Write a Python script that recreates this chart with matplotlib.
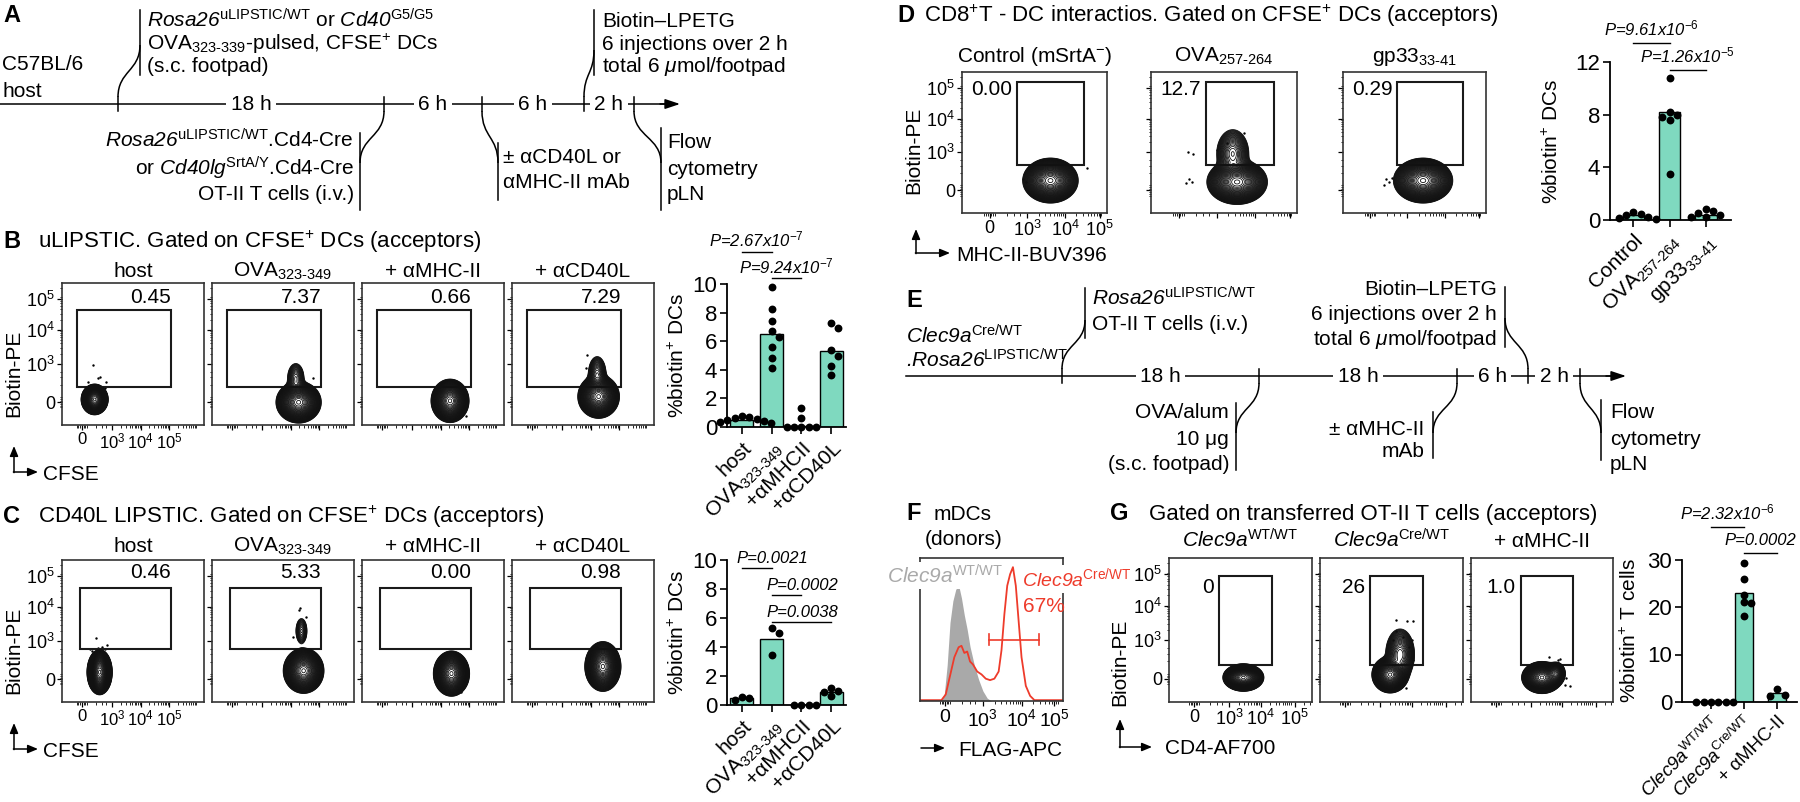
import numpy as np
import matplotlib
matplotlib.use('Agg')
import matplotlib.pyplot as plt
from matplotlib.patches import Rectangle, PathPatch
from matplotlib.path import Path

plt.rcParams['font.family'] = ['Liberation Sans', 'DejaVu Sans']
plt.rcParams['mathtext.fontset'] = 'custom'
plt.rcParams['mathtext.rm'] = 'Liberation Sans'
plt.rcParams['mathtext.it'] = 'Liberation Sans:italic'
plt.rcParams['mathtext.sf'] = 'Liberation Sans:italic'   # italic gene names incl. digits
plt.rcParams['mathtext.bf'] = 'Liberation Sans:bold'
plt.rcParams['mathtext.default'] = 'regular'

W, H = 1800, 802
TEAL = '#7fd9bf'
RED = '#ee3b2b'
GREY = '#a9a9a9'

# ---------------- data ----------------
# timelines (A, E): tick positions (px) and the spans between them
a_ticks = [118, 384, 482, 584, 634]
a_spans = ['18 h', '6 h', '6 h', '2 h']
e_ticks = [1062, 1259, 1457, 1528, 1580]
e_spans = ['18 h', '18 h', '6 h', '2 h']

# flow plots: populations (x, y, sx, sy, weight) in axis fractions, and stray events
b_titles = ['host', r'OVA$_{323\text{-}349}$', '+ αMHC-II', '+ αCD40L']
b_counts = ['0.45', '7.37', '0.66', '7.29']
b_pops = [
    [(0.23, 0.18, 0.030, 0.034, 1.0)],
    [(0.61, 0.16, 0.050, 0.046, 1.0), (0.59, 0.33, 0.028, 0.05, 0.05)],
    [(0.62, 0.17, 0.042, 0.048, 1.0)],
    [(0.61, 0.20, 0.046, 0.048, 1.0), (0.60, 0.36, 0.028, 0.055, 0.07)],
]
b_events = [
    [(0.22, 0.42), (0.27, 0.34), (0.31, 0.30), (0.18, 0.30), (0.30, 0.26), (0.25, 0.33)],
    [(0.71, 0.33)],
    [(0.73, 0.06)],
    [(0.53, 0.49), (0.52, 0.40)],
]

c_titles = ['host', r'OVA$_{323\text{-}349}$', '+ αMHC-II', '+ αCD40L']
c_counts = ['0.46', '5.33', '0.00', '0.98']
c_pops = [
    [(0.265, 0.21, 0.028, 0.05, 1.0)],
    [(0.645, 0.22, 0.045, 0.05, 1.0), (0.63, 0.50, 0.02, 0.045, 0.04)],
    [(0.63, 0.20, 0.040, 0.05, 1.0)],
    [(0.64, 0.25, 0.040, 0.055, 1.0)],
]
c_events = [
    [(0.24, 0.45), (0.28, 0.39), (0.32, 0.40), (0.20, 0.37), (0.27, 0.36), (0.30, 0.37),
     (0.25, 0.38), (0.22, 0.09), (0.29, 0.08), (0.21, 0.36)],
    [(0.61, 0.65), (0.66, 0.60), (0.57, 0.46), (0.62, 0.66)],
    [(0.70, 0.07)],
    [(0.58, 0.39), (0.60, 0.385)],
]

d_titles = [r'Control (mSrtA$^{-}$)', r'OVA$_{257\text{-}264}$', r'gp33$_{33\text{-}41}$']
d_counts = ['0.00', '12.7', '0.29']
d_pops = [
    [(0.61, 0.23, 0.060, 0.050, 1.0)],
    [(0.59, 0.22, 0.065, 0.050, 1.0), (0.56, 0.42, 0.045, 0.07, 0.12)],
    [(0.56, 0.23, 0.065, 0.050, 1.0)],
]
d_events = [
    [(0.42, 0.24), (0.44, 0.22), (0.86, 0.32)],
    [(0.29, 0.42), (0.25, 0.43), (0.28, 0.22), (0.26, 0.24), (0.24, 0.21), (0.64, 0.57),
     (0.52, 0.50), (0.45, 0.45)],
    [(0.30, 0.24), (0.32, 0.22), (0.34, 0.25), (0.29, 0.20), (0.62, 0.35)],
]

g_titles = [r'$\mathsf{Clec9a}^{\mathrm{WT/WT}}$', r'$\mathsf{Clec9a}^{\mathrm{Cre/WT}}$', '+ αMHC-II']
g_counts = ['0', '26', '1.0']
g_pops = [
    [(0.52, 0.17, 0.045, 0.030, 1.0)],
    [(0.49, 0.19, 0.040, 0.040, 1.0), (0.56, 0.33, 0.040, 0.07, 0.15)],
    [(0.50, 0.17, 0.045, 0.035, 1.0), (0.60, 0.20, 0.025, 0.03, 0.15)],
]
g_events = [
    [],
    [(0.53, 0.57), (0.61, 0.56), (0.65, 0.56), (0.53, 0.49), (0.58, 0.45), (0.64, 0.43),
     (0.51, 0.43), (0.62, 0.38), (0.60, 0.10), (0.65, 0.29)],
    [(0.55, 0.31), (0.61, 0.29), (0.63, 0.30), (0.67, 0.17), (0.66, 0.12), (0.70, 0.11)],
]

# bar charts (bar = median, dots = mice)
b_groups = ['host', r'OVA$_{323\text{-}349}$', '+αMHCII', '+αCD40L']
b_bars = [0.5, 6.5, 0.05, 5.3]
b_dots = [[0.8, 0.7, 0.62, 0.55, 0.48, 0.42, 0.35, 0.3],
          [9.8, 8.25, 7.4, 6.7, 6.3, 5.6, 4.85, 4.15],
          [1.3, 0.65, 0, 0, 0, 0, 0],
          [7.3, 6.9, 5.35, 4.95, 4.25, 3.65]]
b_pvals = [(0, 1, 12.25, 'P=2.67x10$^{\\mathit{-7}}$'), (1, 2, 10.4, 'P=9.24x10$^{\\mathit{-7}}$')]

c_groups = ['host', r'OVA$_{323\text{-}349}$', '+αMHCII', '+αCD40L']
c_bars = [0.45, 4.55, 0.0, 0.92]
c_dots = [[0.35, 0.55, 0.45], [5.3, 5.0, 3.45], [0, 0, 0, 0], [0.6, 0.87, 1.0, 1.2]]
c_pvals = [(0, 1, 9.45, 'P=0.0021'), (1, 2, 7.6, 'P=0.0002'), (1, 3, 5.7, 'P=0.0038')]

d_groups = ['Control', r'OVA$_{257\text{-}264}$', r'gp33$_{33\text{-}41}$']
d_bars = [0.35, 8.2, 0.38]
d_dots = [[0.6, 0.45, 0.35, 0.25, 0.15, 0.1],
          [10.8, 8.2, 8.0, 7.8, 7.6, 3.5],
          [0.8, 0.7, 0.55, 0.35, 0.2, 0.25]]
d_pvals = [(0, 1, 13.45, 'P=9.61x10$^{\\mathit{-6}}$'), (1, 2, 11.4, 'P=1.26x10$^{\\mathit{-5}}$')]

g_groups = [r'$\mathsf{Clec9a}^{\mathrm{WT/WT}}$', r'$\mathsf{Clec9a}^{\mathrm{Cre/WT}}$', '+ αMHC-II']
g_bars = [0.0, 23.0, 1.8]
g_dots = [[0, 0, 0, 0, 0, 0], [29.2, 25.9, 22.6, 21.0, 20.8, 18.1], [2.7, 1.4, 1.3]]
g_pvals = [(0, 1, 36.8, 'P=2.32x10$^{\\mathit{-6}}$'), (1, 2, 31.4, 'P=0.0002')]

# F histogram (FLAG-APC, axis fractions)
wt_x = [0.15, 0.17, 0.19, 0.21, 0.23, 0.25, 0.27, 0.29, 0.31, 0.33, 0.35, 0.38, 0.41, 0.44, 0.47, 0.50]
wt_y = [0.0, 0.05, 0.25, 0.55, 0.70, 0.78, 0.81, 0.72, 0.60, 0.50, 0.38, 0.25, 0.15, 0.07, 0.02, 0.0]
cre_x = [0.0, 0.15, 0.18, 0.21, 0.24, 0.27, 0.29, 0.31, 0.33, 0.35, 0.37, 0.40, 0.43, 0.46, 0.49,
         0.52, 0.55, 0.57, 0.59, 0.61, 0.63, 0.65, 0.67, 0.69, 0.71, 0.74, 0.77, 0.80, 1.0]
cre_y = [0.0, 0.0, 0.04, 0.17, 0.30, 0.37, 0.38, 0.33, 0.34, 0.27, 0.25, 0.20, 0.18, 0.15, 0.14,
         0.15, 0.20, 0.35, 0.60, 0.80, 0.88, 0.93, 0.80, 0.55, 0.30, 0.10, 0.03, 0.0, 0.0]

FLOW_LABELS = ['0', '$10^{3}$', '$10^{4}$', '$10^{5}$']
FLOW_YT = [0.16, 0.43, 0.67, 0.89]

# ---------------- figure ----------------
fig = plt.figure(figsize=(18, 8.02), dpi=100)


def box(x0, y0, x1, y1):
    return fig.add_axes([x0 / W, 1 - y1 / H, (x1 - x0) / W, (y1 - y0) / H])


ov = box(0, 0, W, H)
ov.set_xlim(0, W)
ov.set_ylim(H, 0)
ov.axis('off')


def txt(x, y, s, size=15, **kw):
    ov.text(x, y, s, fontsize=size, va='baseline', **kw)


def connector(x0, y0, x1, y1):
    ym = (y0 + y1) / 2
    p = Path([(x0, y0), (x0, ym), (x1, ym), (x1, y1)],
             [Path.MOVETO, Path.CURVE4, Path.CURVE4, Path.CURVE4])
    ov.add_patch(PathPatch(p, fc='none', ec='k', lw=1.1))


def bracket(tick_x, tick_y, line_x, ly0, ly1, join_y):
    ov.plot([line_x, line_x], [ly0, ly1], color='k', lw=1.1)
    connector(tick_x, tick_y, line_x, join_y)


def timeline(x0, tip, y, ticks, spans):
    ov.plot([x0, tip - 8], [y, y], color='k', lw=1.1)
    ov.annotate('', xy=(tip, y), xytext=(tip - 20, y),
                arrowprops=dict(arrowstyle='-|>,head_length=0.9,head_width=0.3', color='k',
                                lw=1.1, shrinkA=0, shrinkB=0))
    for t in ticks:
        ov.plot([t, t], [y - 7, y + 7], color='k', lw=1.1)
    for a, b, s in zip(ticks[:-1], ticks[1:], spans):
        ov.text((a + b) / 2, y, s, fontsize=15, ha='center', va='center',
                bbox=dict(boxstyle='square,pad=0.2', fc='white', ec='none'))


def corner_arrow(x, y, up, right):
    st = dict(arrowstyle='-|>,head_length=0.6,head_width=0.25', color='k', lw=1.1,
              shrinkA=0, shrinkB=0)
    ov.annotate('', xy=(x, y - up), xytext=(x, y + 0.6), arrowprops=st)
    ov.annotate('', xy=(x + right, y), xytext=(x - 0.6, y), arrowprops=st)


def minor_positions(t):
    f0, f3, f4, f5 = t
    dec = f4 - f3
    out = []
    for base in (f3, f4, f5):
        for k in range(2, 10):
            p = base + dec * np.log10(k)
            if p < 1:
                out.append(p)
    for k in (1, 2, 3):
        out += [f0 - 0.012 * k, f0 + 0.012 * k]
    out += list(f0 + (f3 - f0) * np.array([0.45, 0.65, 0.8]))
    return [p for p in out if 0 < p < 1]


def flow_ticks(ax, xt, show_x, show_y, xsize=13):
    ax.set_xticks(xt)
    ax.set_yticks(FLOW_YT)
    ax.set_xticks(minor_positions(xt), minor=True)
    ax.set_yticks(minor_positions(FLOW_YT), minor=True)
    ax.set_xticklabels(FLOW_LABELS if show_x else [])
    ax.set_yticklabels(FLOW_LABELS if show_y else [])
    ax.tick_params(which='major', length=3.5, width=0.9, labelsize=13, pad=1.5)
    ax.tick_params(axis='x', which='major', labelsize=xsize)
    ax.tick_params(which='minor', length=1.8, width=0.6)


gx = np.linspace(0, 1, 400)
GX, GY = np.meshgrid(gx, gx)
LEVELS = np.geomspace(0.006, 0.96, 42)


def flow_axes(xb, yb, pops, events, gate, count, count_mode, count_y, xt, title, title_gap,
              show_x=False, show_y=False, xsize=13):
    x0, x1 = xb
    y0, y1 = yb
    ax = box(x0, y0, x1, y1)
    ax.set_xlim(0, 1)
    ax.set_ylim(0, 1)
    z = np.zeros_like(GX)
    for cx, cy, sx, sy, w in pops:
        z += w * np.exp(-0.5 * (((GX - cx) / sx) ** 2 + ((GY - cy) / sy) ** 2))
    ax.contour(GX, GY, z, levels=z.max() * LEVELS, colors='#111111', linewidths=0.6)
    if events:
        e = np.array(events)
        ax.scatter(e[:, 0], e[:, 1], s=3, c='k', lw=0)
    g0, g1, h0, h1 = gate
    ax.add_patch(Rectangle((g0, h0), g1 - g0, h1 - h0, fill=False, ec='#1a1a1a', lw=1.5))
    if count_mode == 'right':
        ax.text(g1, count_y, count, ha='right', va='baseline', fontsize=15)
    else:
        ax.text(g0 - 0.035, count_y, count, ha='right', va='baseline', fontsize=15)
    ax.text(0.5, 1 + title_gap / (y1 - y0), title, transform=ax.transAxes, ha='center',
            va='baseline', fontsize=15)
    for sp in ax.spines.values():
        sp.set_linewidth(1.2)
        sp.set_color('#333333')
    flow_ticks(ax, xt, show_x, show_y, xsize)
    return ax


def swarm(vals, ypu, xpu, d=8.0):
    placed, offs = [], []
    for v in vals:
        y = v * ypu
        cand = 0.0
        for k in range(0, 30):
            cand = 0.0 if k == 0 else ((k + 1) // 2) * d * 0.92 * (1 if k % 2 else -1)
            if all((cand - px) ** 2 + (y - py) ** 2 >= (d * 0.92) ** 2 for px, py in placed):
                break
        placed.append((cand, y))
        offs.append(cand / xpu)
    return np.array(offs)


def bar_axes(xb, yb, names, heights, dots, xlim, ylim, yticks, ylabel, lab_x, bw, pvals,
             p_mode, p_gap, xlab_size=15):
    x0, x1 = xb
    y0, y1 = yb
    ax = box(x0, y0, x1, y1)
    pos = np.arange(len(names))
    ax.bar(pos, heights, width=bw, color=TEAL, edgecolor='k', linewidth=1.0, zorder=2)
    ax.set_xlim(*xlim)
    ax.set_ylim(*ylim)
    ypu = (y1 - y0) / (ylim[1] - ylim[0])
    xpu = (x1 - x0) / (xlim[1] - xlim[0])
    for i, vals in enumerate(dots):
        v = sorted(vals, reverse=True)
        offs = swarm(v, ypu, xpu)
        ax.scatter(pos[i] + offs, v, s=32, c='k', lw=0, zorder=3, clip_on=False)
    for s in ('top', 'right'):
        ax.spines[s].set_visible(False)
    for s in ('left', 'bottom'):
        ax.spines[s].set_linewidth(1.3)
    ax.set_yticks(yticks)
    ax.set_xticks(pos)
    ax.set_xticklabels(names, rotation=45, ha='right', rotation_mode='anchor',
                       fontsize=xlab_size)
    ax.tick_params(axis='y', labelsize=16, length=5, width=1.2, pad=2)
    ax.tick_params(axis='x', length=5, width=1.2, pad=3)
    ax.set_ylabel(ylabel, fontsize=15)
    ax.yaxis.set_label_coords(lab_x, 0.5)
    for i, j, y, s in pvals:
        ax.plot([i, j], [y, y], color='k', lw=1.0, clip_on=False)
        if p_mode == 'center':
            ax.text((i + j) / 2, y + p_gap, s, ha='center', va='baseline', fontsize=12,
                    style='italic', clip_on=False)
        else:
            ax.text(i - 0.17, y + p_gap, s, ha='left', va='baseline', fontsize=12,
                    style='italic', clip_on=False)
    return ax


# ---------------- A ----------------
txt(3, 22, 'A', size=17, weight='bold')
txt(2, 70, 'C57BL/6')
txt(2, 97, 'host')
timeline(0, 680, 104, a_ticks, a_spans)
bracket(a_ticks[0], 97, 140, 10, 75, 45)
txt(147, 27, r'$\mathsf{Rosa26}^{\mathrm{uLIPSTIC/WT}}$ or $\mathsf{Cd40}^{\mathrm{G5/G5}}$')
txt(147, 50, r'OVA$_{323\text{-}339}$-pulsed, CFSE$^{+}$ DCs')
txt(147, 72, '(s.c. footpad)')
bracket(a_ticks[3], 97, 594, 10, 75, 50)
txt(602, 27, 'Biotin–LPETG')
txt(602, 50, '6 injections over 2 h')
txt(602, 72, r'total 6 $\mathit{\mu}$mol/footpad')
bracket(a_ticks[1], 111, 360, 133, 210, 163)
txt(354, 148, r'$\mathsf{Rosa26}^{\mathrm{uLIPSTIC/WT}}$.Cd4-Cre', ha='right')
txt(354, 175, r'or $\mathsf{Cd40lg}^{\mathrm{SrtA/Y}}$.Cd4-Cre', ha='right')
txt(354, 200, 'OT-II T cells (i.v.)', ha='right')
bracket(a_ticks[2], 111, 498, 143, 200, 163)
txt(503, 163, '± αCD40L or')
txt(503, 188, 'αMHC-II mAb')
bracket(a_ticks[4], 111, 661, 128, 210, 163)
txt(667, 148, 'Flow')
txt(667, 175, 'cytometry')
txt(667, 200, 'pLN')

# ---------------- B ----------------
txt(3, 248, 'B', size=17, weight='bold')
txt(38, 248, r'uLIPSTIC. Gated on CFSE$^{+}$ DCs (acceptors)', size=16)
bc_x = [(62, 204), (212, 354), (362, 504), (512, 654)]
bc_xt = [0.14, 0.355, 0.555, 0.755]
for k in range(4):
    flow_axes(bc_x[k], (283, 425), b_pops[k], b_events[k], (0.105, 0.77, 0.27, 0.81),
              b_counts[k], 'right', 0.86, bc_xt, b_titles[k], 6, show_x=(k == 0),
              show_y=(k == 0), xsize=12)
ov.text(14, 373, 'Biotin-PE', fontsize=15, rotation=90, ha='center', va='center')
corner_arrow(14, 472, 26, 24)
txt(43, 480, 'CFSE')
bar_axes((727, 846), (284, 427), b_groups, b_bars, b_dots, (-0.5, 3.5), (0, 10),
         [0, 2, 4, 6, 8, 10], r'%biotin$^{+}$ DCs', -0.33, 0.77, b_pvals, 'center', 0.35)

# ---------------- C ----------------
txt(3, 523, 'C', size=17, weight='bold')
txt(38, 523, r'CD40L LIPSTIC. Gated on CFSE$^{+}$ DCs (acceptors)', size=16)
for k in range(4):
    flow_axes(bc_x[k], (560, 702), c_pops[k], c_events[k], (0.125, 0.765, 0.37, 0.80),
              c_counts[k], 'right', 0.87, bc_xt, c_titles[k], 8, show_x=(k == 0),
              show_y=(k == 0), xsize=12)
ov.text(14, 650, 'Biotin-PE', fontsize=15, rotation=90, ha='center', va='center')
corner_arrow(14, 749, 26, 24)
txt(43, 757, 'CFSE')
bar_axes((727, 846), (560, 705), c_groups, c_bars, c_dots, (-0.5, 3.5), (0, 10),
         [0, 2, 4, 6, 8, 10], r'%biotin$^{+}$ DCs', -0.33, 0.77, c_pvals, 'left', 0.35)

# ---------------- D ----------------
txt(897, 22, 'D', size=17, weight='bold')
txt(924, 22, r'CD8$^{+}$T - DC interactios. Gated on CFSE$^{+}$ DCs (acceptors)', size=16)
d_x = [(962, 1107), (1151, 1297), (1343, 1486)]
for k in range(3):
    flow_axes(d_x[k], (72, 213), d_pops[k], d_events[k], (0.38, 0.84, 0.34, 0.93),
              d_counts[k], 'left', 0.84, [0.19, 0.45, 0.71, 0.95], d_titles[k], 10,
              show_x=(k == 0), show_y=(k == 0))
ov.text(914, 150, 'Biotin-PE', fontsize=15, rotation=90, ha='center', va='center')
corner_arrow(916, 253, 24, 34)
txt(956, 261, 'MHC-II-BUV396')
bar_axes((1610, 1731), (62, 220), d_groups, d_bars, d_dots, (-0.65, 2.7), (0, 12),
         [0, 4, 8, 12], r'%biotin$^{+}$ DCs', -0.40, 0.6, d_pvals, 'center', 0.6)

# ---------------- E ----------------
txt(906, 307, 'E', size=17, weight='bold')
txt(906, 343, r'$\mathsf{Clec9a}^{\mathrm{Cre/WT}}$')
txt(906, 367, r'.$\mathsf{Rosa26}^{\mathrm{LIPSTIC/WT}}$', style='italic')
timeline(906, 1626, 376, e_ticks, e_spans)
bracket(e_ticks[0], 369, 1085, 288, 338, 320)
txt(1092, 305, r'$\mathsf{Rosa26}^{\mathrm{uLIPSTIC/WT}}$')
txt(1092, 330, 'OT-II T cells (i.v.)')
bracket(e_ticks[3], 369, 1505, 287, 347, 318)
txt(1497, 295, 'Biotin–LPETG', ha='right')
txt(1497, 320, '6 injections over 2 h', ha='right')
txt(1497, 345, r'total 6 $\mathit{\mu}$mol/footpad', ha='right')
bracket(e_ticks[1], 383, 1236, 403, 470, 433)
txt(1229, 418, 'OVA/alum', ha='right')
txt(1229, 445, '10 μg', ha='right')
txt(1229, 470, '(s.c. footpad)', ha='right')
bracket(e_ticks[2], 383, 1433, 412, 458, 433)
txt(1424, 435, '± αMHC-II', ha='right')
txt(1424, 457, 'mAb', ha='right')
bracket(e_ticks[4], 383, 1601, 400, 460, 433)
txt(1610, 418, 'Flow')
txt(1610, 445, 'cytometry')
txt(1610, 470, 'pLN')

# ---------------- F ----------------
txt(906, 520, 'F', size=17, weight='bold')
txt(934, 520, 'mDCs')
txt(925, 545, '(donors)')
fa = box(920, 558, 1063, 701)
fa.fill_between(wt_x, wt_y, color=GREY, lw=0, zorder=1)
fa.plot(cre_x, [v + 0.006 for v in cre_y], color=RED, lw=1.3, zorder=2)
fa.plot([0.48, 0.83], [0.43, 0.43], color=RED, lw=1.2)
fa.plot([0.48, 0.48], [0.39, 0.47], color=RED, lw=1.2)
fa.plot([0.83, 0.83], [0.39, 0.47], color=RED, lw=1.2)
fa.set_xlim(0, 1)
fa.set_ylim(0, 1)
fa.set_yticks([])
fa.set_xticks([0.175, 0.44, 0.71, 0.94])
fa.set_xticks(minor_positions([0.175, 0.44, 0.71, 0.94]), minor=True)
fa.set_xticklabels(FLOW_LABELS)
fa.tick_params(which='major', length=3.5, width=0.9, labelsize=14, pad=2)
fa.tick_params(which='minor', length=1.8, width=0.6)
for sp in fa.spines.values():
    sp.set_linewidth(1.2)
    sp.set_color('#333333')
fa.text(-0.23, 0.825, r'$\mathsf{Clec9a}^{\mathrm{WT/WT}}$', color=GREY, fontsize=15,
        va='baseline', zorder=5, clip_on=False,
        bbox=dict(boxstyle='square,pad=0.1', fc='white', ec='none'))
fa.text(0.71, 0.80, r'$\mathsf{Clec9a}^{\mathrm{Cre/WT}}$', color=RED, fontsize=14,
        va='baseline', zorder=5, clip_on=False,
        bbox=dict(boxstyle='square,pad=0.1', fc='white', ec='none'))
fa.text(0.72, 0.62, '67%', color=RED, fontsize=15, va='baseline', zorder=5)
ov.annotate('', xy=(945, 748), xytext=(921, 748),
            arrowprops=dict(arrowstyle='-|>,head_length=0.6,head_width=0.25', color='k',
                            lw=1.1, shrinkA=0, shrinkB=0))
txt(958, 756, 'FLAG-APC')

# ---------------- G ----------------
txt(1110, 520, 'G', size=17, weight='bold')
txt(1149, 520, 'Gated on transferred OT-II T cells (acceptors)', size=16)
g_x = [(1169, 1312), (1320, 1463), (1471, 1613)]
for k in range(3):
    flow_axes(g_x[k], (558, 702), g_pops[k], g_events[k], (0.35, 0.72, 0.26, 0.875),
              g_counts[k], 'left', 0.76, [0.175, 0.42, 0.64, 0.88], g_titles[k], 11,
              show_x=(k == 0), show_y=(k == 0))
ov.text(1120, 662, 'Biotin-PE', fontsize=15, rotation=90, ha='center', va='center')
corner_arrow(1120, 747, 28, 32)
txt(1165, 754, 'CD4-AF700')
bar_axes((1682, 1797), (559.5, 702), g_groups, g_bars, g_dots, (-0.88, 2.6), (0, 30),
         [0, 10, 20, 30], r'%biotin$^{+}$ T cells', -0.365, 0.55, g_pvals, 'center', 1.7,
         xlab_size=13.5)

fig.savefig('out.png', dpi=100, facecolor='white')
